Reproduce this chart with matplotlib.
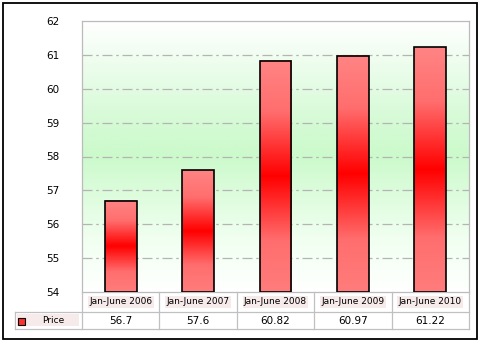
import numpy as np
import matplotlib.pyplot as plt
from matplotlib.colors import LinearSegmentedColormap
from matplotlib.patches import Rectangle

periods = ["Jan-June 2006", "Jan-June 2007", "Jan-June 2008", "Jan-June 2009", "Jan-June 2010"]
price = [56.7, 57.6, 60.82, 60.97, 61.22]
price_labels = ["56.7", "57.6", "60.82", "60.97", "61.22"]
yticks = [54, 55, 56, 57, 58, 59, 60, 61, 62]

W, H = 481, 342
fig = plt.figure(figsize=(W / 100, H / 100), dpi=100)
plt.rcParams['font.family'] = ['DejaVu Sans']

def fx(px):
    return px / W

def fy(py):
    return 1 - py / H

L, R, T, B = 82, 469, 21, 292
ax = fig.add_axes([fx(L), fy(B), fx(R) - fx(L), fy(T) - fy(B)])
ax.set_xlim(0, len(periods))
ax.set_ylim(54, 62)

# background: white at top and bottom, soft green in the middle
bg = LinearSegmentedColormap.from_list(
    "bg", [(0, "#ffffff"), (0.2, "#f0fff0"), (0.5, "#ccfacc"), (0.62, "#d4fad4"), (1, "#ffffff")])
grad = np.linspace(1, 0, 256).reshape(-1, 1)
ax.imshow(grad, cmap=bg, aspect="auto", extent=[0, len(periods), 54, 62], zorder=0)

for y in yticks[1:-1]:
    ax.axhline(y, color="#b4b4b4", lw=0.9, ls=(0, (8, 3, 2, 3)), zorder=1)

# bars: light red at the ends, bright red in the middle
barmap = LinearSegmentedColormap.from_list(
    "bar", [(0, "#ff7c7c"), (0.22, "#ff6e6e"), (0.5, "#ff0000"), (0.78, "#ff6e6e"), (1, "#ff8484")])
bw = 0.41
for i, v in enumerate(price):
    x0 = i + 0.5 - bw / 2
    ax.imshow(grad, cmap=barmap, aspect="auto", extent=[x0, x0 + bw, 54, v], zorder=2)
    ax.add_patch(Rectangle((x0, 54), bw, v - 54, fill=False, ec="black", lw=1.2, zorder=3))

ax.set_xlim(0, len(periods))
ax.set_ylim(54, 62)
ax.set_xticks([])
ax.set_yticks(yticks)
ax.tick_params(axis="y", length=0, pad=16, labelsize=7.5)
for s in ax.spines.values():
    s.set_color("#bbbbbb")
    s.set_linewidth(0.9)

# data table under the plot
gc = "#c0c0c0"
cell = (R - L) / len(periods)
r1, r2 = 312, 329
fig.add_artist(plt.Line2D([fx(15), fx(R)], [fy(r1), fy(r1)], color=gc, lw=0.9))
fig.add_artist(plt.Line2D([fx(15), fx(R)], [fy(r2), fy(r2)], color=gc, lw=0.9))
fig.add_artist(plt.Line2D([fx(15), fx(15)], [fy(r1), fy(r2)], color=gc, lw=0.9))
for i in range(len(periods) + 1):
    xp = L + i * cell
    fig.add_artist(plt.Line2D([fx(xp), fx(xp)], [fy(B), fy(r2)], color=gc, lw=0.9))

for i, (p, lab) in enumerate(zip(periods, price_labels)):
    xc = L + (i + 0.5) * cell
    fig.text(fx(xc), fy((B + r1) / 2), p, ha="center", va="center", fontsize=6.5,
             bbox=dict(boxstyle="square,pad=0.15", fc="#f7eaea", ec="none"))
    fig.text(fx(xc), fy((r1 + r2) / 2), lab, ha="center", va="center", fontsize=7.5)

fig.add_artist(Rectangle((fx(17), fy(326)), fx(62), fy(314) - fy(326), transform=fig.transFigure,
                         fc="#f7eaea", ec="none"))
fig.add_artist(Rectangle((fx(18), fy(325)), fx(7), fy(318) - fy(325), transform=fig.transFigure,
                         fc="#ff3030", ec="black", lw=0.8))
fig.text(fx(53), fy((r1 + r2) / 2), "Price", ha="center", va="center", fontsize=6.5)

# outer frame
fig.add_artist(Rectangle((fx(2.5), fy(338.5)), fx(475), fy(2.5) - fy(338.5), transform=fig.transFigure,
                         fill=False, ec="black", lw=1.3))

fig.savefig("out.png", dpi=100)
